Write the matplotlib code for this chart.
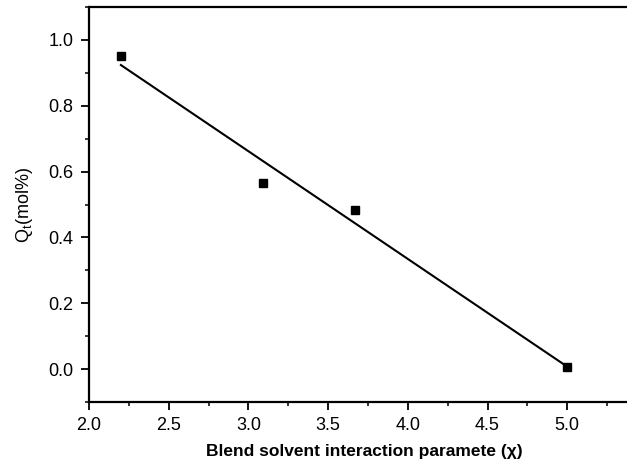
import numpy as np
import matplotlib
matplotlib.use('Agg')
import matplotlib.pyplot as plt
from matplotlib.ticker import MultipleLocator

plt.rcParams['font.family'] = ['Liberation Sans', 'DejaVu Sans']

chi = [2.2, 3.09, 3.67, 5.0]
qt = [0.95, 0.565, 0.484, 0.007]

# linear fit drawn over the measured range
fit = np.polyfit(chi, qt, 1)
fit_x = np.array([min(chi), max(chi)])
fit_y = np.polyval(fit, fit_x)

fig = plt.figure(figsize=(6.27, 4.68), dpi=100)
ax = fig.add_axes([89 / 627, 66 / 468, 550 / 627, 395 / 468])

ax.plot(fit_x, fit_y, color='black', linewidth=1.5)
ax.plot(chi, qt, 's', color='black', markersize=6)

ax.set_xlim(2.0, 5.45)
ax.set_ylim(-0.1, 1.1)
ax.xaxis.set_major_locator(MultipleLocator(0.5))
ax.xaxis.set_minor_locator(MultipleLocator(0.25))
ax.yaxis.set_major_locator(MultipleLocator(0.2))
ax.yaxis.set_minor_locator(MultipleLocator(0.1))
ax.xaxis.set_major_formatter(plt.FormatStrFormatter('%.1f'))
ax.yaxis.set_major_formatter(plt.FormatStrFormatter('%.1f'))

ax.tick_params(which='major', direction='out', length=6, width=1.3, labelsize=13, colors='black')
ax.tick_params(which='minor', direction='out', length=3, width=1.1)
ax.tick_params(axis='x', which='major', pad=5)
ax.tick_params(axis='y', which='major', pad=5)
for s in ax.spines.values():
    s.set_linewidth(1.6)

ax.set_xlabel('Blend solvent interaction paramete (\u03c7)', fontsize=12.5, fontweight='bold', labelpad=7)
ax.set_ylabel('Q$_\\mathregular{t}$(mol%)', fontsize=13, labelpad=10)

fig.savefig('out.png', dpi=100)
